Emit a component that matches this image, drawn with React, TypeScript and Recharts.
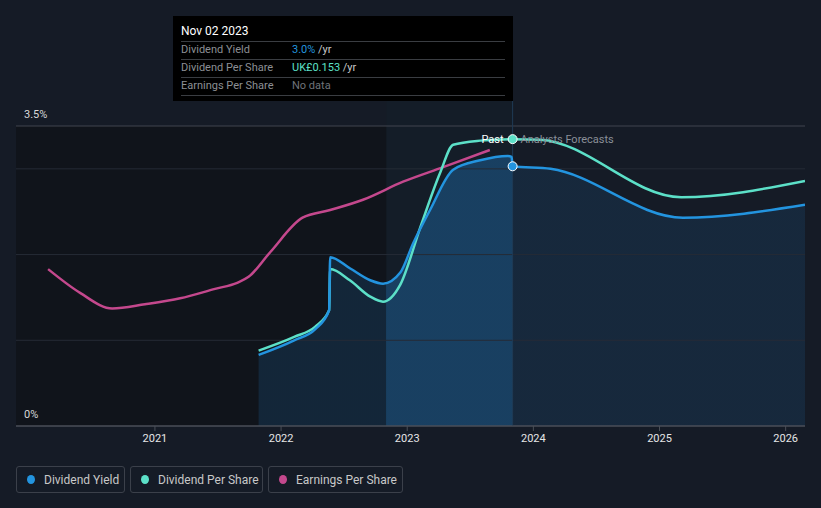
import React from 'react';
import {
  ComposedChart, Area, Line, XAxis, YAxis,
  ReferenceArea, ReferenceLine, ReferenceDot,
} from 'recharts';

const toYear = (d: string): number => {
  const [y, m, dd] = d.split('-').map(Number);
  const start = Date.UTC(y, 0, 1);
  const end = Date.UTC(y + 1, 0, 1);
  return y + (Date.UTC(y, m - 1, dd) - start) / (end - start);
};

// Dividend yield (%)
const yieldDates = [
  '2021-10-28', '2022-02-08', '2022-04-10', '2022-05-20', '2022-05-23',
  '2022-07-19', '2022-09-16', '2022-10-23', '2022-12-12', '2023-01-18',
  '2023-03-08', '2023-05-14', '2023-07-31', '2023-10-19', '2023-10-30',
  '2023-11-02', '2024-02-20', '2025-03-10', '2026-02-26',
];
const yieldValues = [
  0.83, 1.0, 1.13, 1.35, 1.97,
  1.84, 1.7, 1.66, 1.79, 2.13,
  2.52, 2.99, 3.1, 3.15, 3.14,
  3.03, 3.0, 2.43, 2.58,
];

// Dividend per share (UK£)
const dpsDates = [
  '2021-10-28', '2022-02-08', '2022-04-10', '2022-05-20', '2022-05-23',
  '2022-07-19', '2022-09-16', '2022-10-23', '2022-12-12', '2023-02-08',
  '2023-04-06', '2023-05-14', '2023-07-31', '2023-11-02', '2024-01-20',
  '2025-03-05', '2026-02-26',
];
const dpsValues = [
  0.0402, 0.0475, 0.053, 0.0617, 0.0837,
  0.0777, 0.069, 0.0663, 0.0754, 0.106,
  0.1349, 0.15, 0.1522, 0.153, 0.1527,
  0.122, 0.1307,
];

// Earnings per share (UK£)
const epsDates = [
  '2020-02-26', '2020-05-30', '2020-08-30', '2020-12-03', '2021-03-15',
  '2021-06-24', '2021-08-27', '2021-09-29', '2021-12-01', '2022-03-04',
  '2022-05-23', '2022-08-26', '2022-12-20', '2023-04-15', '2023-08-28',
];
const epsValues = [
  0.183, 0.155, 0.137, 0.142, 0.149,
  0.16, 0.167, 0.174, 0.203, 0.243,
  0.252, 0.264, 0.285, 0.302, 0.322,
];

const yearTicks = [2021, 2022, 2023, 2024, 2025, 2026];
const gridValues = [1, 2, 3];

const X_MIN = toYear('2019-11-25');
const X_MAX = toYear('2026-02-26');
const BAND_START = toYear('2022-11-02');
const NOW = toYear('2023-11-02');

const BLUE = '#2394df';
const TEAL = '#5ce0c8';
const PINK = '#c4488d';

const yieldData = yieldDates.map((d, i) => ({ t: toYear(d), v: yieldValues[i] }));
const dpsData = dpsDates.map((d, i) => ({ t: toYear(d), v: dpsValues[i] }));
const epsData = epsDates.map((d, i) => ({ t: toYear(d), v: epsValues[i] }));

const areaStart = yieldData[0].t;
const areaEnd = yieldData[yieldData.length - 1].t;
const offA = (BAND_START - areaStart) / (areaEnd - areaStart);
const offB = (NOW - areaStart) / (areaEnd - areaStart);

const axisLabel = (text: string) => {
  // eslint-disable-next-line @typescript-eslint/no-explicit-any
  const Label = ({ viewBox }: any) => (
    <text x={viewBox.x + 8} y={viewBox.y - 12} fill="#d8d8d8" fontSize={11} dominantBaseline="central">
      {text}
    </text>
  );
  return <Label />;
};

// eslint-disable-next-line @typescript-eslint/no-explicit-any
const NowLabel = ({ viewBox }: any) => {
  const cx = viewBox.x + viewBox.width / 2;
  const cy = viewBox.y + viewBox.height / 2;
  return (
    <g>
      <text x={cx - 9} y={cy} textAnchor="end" fill="#ffffff" fontSize={11} dominantBaseline="central">Past</text>
      <text x={cx + 8} y={cy} textAnchor="start" fill="#8a8f98" fontSize={11} dominantBaseline="central">Analysts Forecasts</text>
    </g>
  );
};

const legendItems = [
  { name: 'Dividend Yield', color: BLUE, width: 109 },
  { name: 'Dividend Per Share', color: TEAL, width: 133 },
  { name: 'Earnings Per Share', color: PINK, width: 135 },
];

const tipRows = [
  { label: 'Dividend Yield', value: '3.0%', color: BLUE, unit: ' /yr' },
  { label: 'Dividend Per Share', value: 'UK£0.153', color: TEAL, unit: ' /yr' },
  { label: 'Earnings Per Share', value: 'No data', color: '#6f737a', unit: '' },
];

export default function App() {
  return (
    <div
      style={{
        position: 'absolute', left: 0, top: 0, width: 821, height: 508,
        background: '#151b26', fontFamily: 'Roboto, sans-serif', overflow: 'hidden',
      }}
    >
      <ComposedChart
        width={821}
        height={508}
        margin={{ top: 126, right: 16, left: 16, bottom: 52 }}
      >
        <defs>
          <linearGradient id="yieldFill" x1="0" y1="0" x2="1" y2="0">
            <stop offset={0} stopColor="#1f6fb0" stopOpacity={0.2} />
            <stop offset={offA} stopColor="#1f6fb0" stopOpacity={0.2} />
            <stop offset={offA} stopColor="#1f6fb0" stopOpacity={0.42} />
            <stop offset={offB} stopColor="#1f6fb0" stopOpacity={0.42} />
            <stop offset={offB} stopColor="#1f6fb0" stopOpacity={0.16} />
            <stop offset={1} stopColor="#1f6fb0" stopOpacity={0.16} />
          </linearGradient>
        </defs>
        <XAxis
          type="number"
          dataKey="t"
          domain={[X_MIN, X_MAX]}
          ticks={yearTicks}
          allowDataOverflow
          tickFormatter={(v: number) => String(Math.round(v))}
          stroke="#4a4f58"
          tick={{ fill: '#e6e6e6', fontSize: 11 }}
          tickSize={5}
          tickMargin={3}
          height={30}
        />
        <YAxis yAxisId="pct" domain={[0, 3.5]} hide allowDataOverflow />
        <YAxis yAxisId="dps" domain={[0, 0.16]} hide />
        <YAxis yAxisId="eps" domain={[0, 0.35]} hide />
        <ReferenceArea
          yAxisId="pct"
          x1={X_MIN}
          x2={BAND_START}
          y1={0}
          y2={3.5}
          fill="#10141b"
          fillOpacity={1}
          stroke="none"
        />
        <ReferenceArea
          yAxisId="pct"
          x1={BAND_START}
          x2={NOW}
          y1={0}
          y2={3.8}
          ifOverflow="visible"
          fill="#141d28"
          fillOpacity={1}
          stroke="none"
        />
        {gridValues.map((g) => (
          <ReferenceLine key={g} yAxisId="pct" y={g} stroke="#252b36" />
        ))}
        <ReferenceLine yAxisId="pct" y={3.5} stroke="#40454f" label={axisLabel('3.5%')} />
        <ReferenceLine yAxisId="pct" y={0} stroke="#4a4f58" label={axisLabel('0%')} />
        <ReferenceLine
          yAxisId="pct"
          segment={[{ x: NOW, y: 0 }, { x: NOW, y: 3.8 }]}
          ifOverflow="visible"
          stroke="#1f3a55"
        />
        <Area
          yAxisId="pct"
          data={yieldData}
          dataKey="v"
          type="monotone"
          stroke="none"
          fill="url(#yieldFill)"
          fillOpacity={1}
          isAnimationActive={false}
        />
        <Line
          yAxisId="eps"
          data={epsData}
          dataKey="v"
          type="monotone"
          stroke={PINK}
          strokeWidth={2.5}
          dot={false}
          isAnimationActive={false}
        />
        <Line
          yAxisId="dps"
          data={dpsData}
          dataKey="v"
          type="monotone"
          stroke={TEAL}
          strokeWidth={2.5}
          dot={false}
          isAnimationActive={false}
        />
        <Line
          yAxisId="pct"
          data={yieldData}
          dataKey="v"
          type="monotone"
          stroke={BLUE}
          strokeWidth={2.5}
          dot={false}
          isAnimationActive={false}
        />
        <ReferenceDot
          yAxisId="dps"
          x={NOW}
          y={0.153}
          r={4.5}
          fill={TEAL}
          stroke="#ffffff"
          strokeWidth={1}
          label={<NowLabel />}
        />
        <ReferenceDot
          yAxisId="pct"
          x={NOW}
          y={3.03}
          r={4.5}
          fill={BLUE}
          stroke="#ffffff"
          strokeWidth={1}
        />
      </ComposedChart>

      <div
        style={{
          position: 'absolute', left: 173, top: 16, width: 340, height: 85,
          background: '#000000', boxSizing: 'border-box', padding: '0 8px',
        }}
      >
        <div style={{ color: '#ffffff', fontSize: 12, height: 25, lineHeight: '30px' }}>Nov 02 2023</div>
        {tipRows.map((r) => (
          <div
            key={r.label}
            style={{
              borderTop: '1px solid #3a3d42', height: 17, lineHeight: '16px',
              fontSize: 11, display: 'flex',
            }}
          >
            <span style={{ color: '#8c8f94', width: 111 }}>{r.label}</span>
            <span style={{ color: r.color }}>{r.value}</span>
            <span style={{ color: '#c8c8c8', whiteSpace: 'pre' }}>{r.unit}</span>
          </div>
        ))}
        <div style={{ borderTop: '1px solid #3a3d42' }} />
      </div>

      <div style={{ position: 'absolute', left: 16, top: 466, display: 'flex', gap: 5 }}>
        {legendItems.map((it) => (
          <div
            key={it.name}
            style={{
              width: it.width, height: 27, boxSizing: 'border-box',
              border: '1px solid #3b404a', borderRadius: 3,
              display: 'flex', alignItems: 'center', paddingLeft: 10,
              color: '#c8c8c8', fontSize: 12,
            }}
          >
            <span
              style={{
                width: 8, height: 9, borderRadius: '50%', background: it.color,
                marginRight: 9, display: 'inline-block',
              }}
            />
            {it.name}
          </div>
        ))}
      </div>
    </div>
  );
}
